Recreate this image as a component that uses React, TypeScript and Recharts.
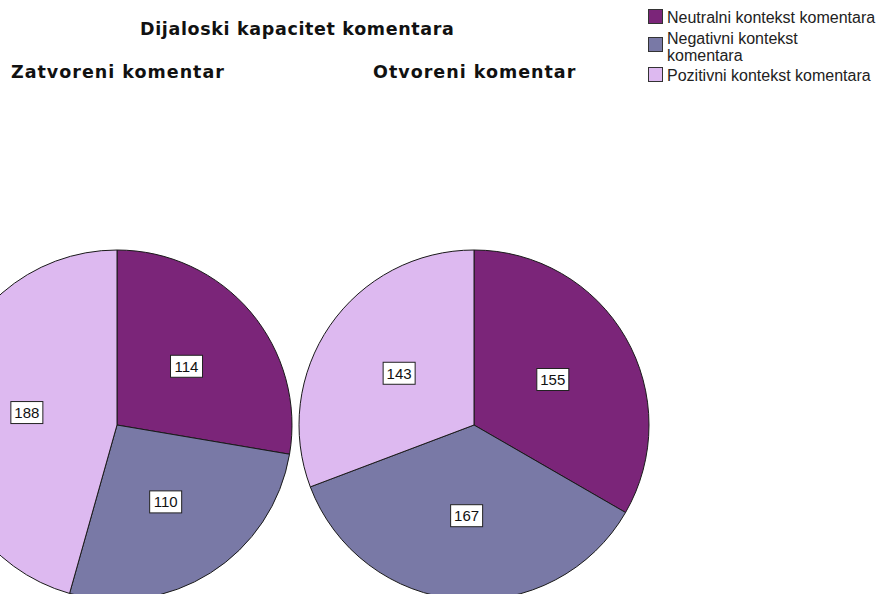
import { PieChart, Pie, Cell, Legend } from "recharts";

const categories = ["Neutralni kontekst komentara", "Negativni kontekst komentara", "Pozitivni kontekst komentara"];
const legendLines = [["Neutralni kontekst komentara"], ["Negativni kontekst", "komentara"], ["Pozitivni kontekst komentara"]];
const colors = ["#7B2579", "#7979A6", "#DDB9F0"];
const closedValues = [114, 110, 188];
const openValues = [155, 167, 143];

const chartTitle = "Dijaloski kapacitet komentara";
const pieTitles = ["Zatvoreni komentar", "Otvoreni komentar"];

const closedData = categories.map((name, i) => ({ name, value: closedValues[i] }));
const openData = categories.map((name, i) => ({ name, value: openValues[i] }));

const RAD = Math.PI / 180;

function ValueLabel(props: any) {
  const { cx, cy, midAngle, outerRadius, value } = props;
  const r = outerRadius * 0.52;
  const x = cx + r * Math.cos(-midAngle * RAD);
  const y = cy + r * Math.sin(-midAngle * RAD);
  return (
    <g>
      <rect x={x - 16} y={y - 11} width={32} height={22} fill="#fff" stroke="#222" strokeWidth={1} />
      <text
        x={x}
        y={y + 5.5}
        textAnchor="middle"
        fontSize={15}
        fontFamily="'Liberation Sans', Arial, sans-serif"
        fill="#111"
      >
        {value}
      </text>
    </g>
  );
}

function LegendBox() {
  const tops = [10, 31, 68];
  const swatchTops = [9, 37, 67];
  return (
    <div style={{ position: "relative", width: 232, height: 90 }}>
      {legendLines.map((lines, i) => (
        <div key={categories[i]}>
          <div
            style={{
              position: "absolute",
              left: 0,
              top: swatchTops[i],
              width: 13,
              height: 13,
              background: colors[i],
              border: "1px solid #333",
            }}
          />
          <div
            style={{
              position: "absolute",
              left: 19,
              top: tops[i],
              fontSize: 16,
              lineHeight: "16.5px",
              fontFamily: "'Liberation Sans', Arial, sans-serif",
              color: "#222",
              whiteSpace: "nowrap",
            }}
          >
            {lines.map((l) => (
              <div key={l}>{l}</div>
            ))}
          </div>
        </div>
      ))}
    </div>
  );
}

const titleFont = {
  position: "absolute" as const,
  fontFamily: "'DejaVu Sans', sans-serif",
  fontWeight: "bold" as const,
  fontSize: 17.5,
  lineHeight: "20px",
  letterSpacing: 1,
  color: "#111",
  whiteSpace: "nowrap" as const,
};

export default function App() {
  return (
    <div
      style={{
        position: "absolute",
        left: 0,
        top: 0,
        width: 880,
        height: 594,
        overflow: "hidden",
        background: "#fff",
      }}
    >
      <div style={{ ...titleFont, letterSpacing: 0.65, left: 140, top: 19 }}>{chartTitle}</div>
      <div style={{ ...titleFont, left: 11, top: 62 }}>{pieTitles[0]}</div>
      <div style={{ ...titleFont, left: 373, top: 62 }}>{pieTitles[1]}</div>
      <PieChart width={880} height={594} margin={{ top: 0, right: 0, bottom: 0, left: 0 }}>
        <Legend
          content={() => <LegendBox />}
          wrapperStyle={{ position: "absolute", left: 648, top: 0, width: 232 }}
        />
        <Pie
          data={closedData}
          dataKey="value"
          nameKey="name"
          cx={117}
          cy={425}
          outerRadius={175}
          startAngle={90}
          endAngle={-270}
          stroke="#1a1a1a"
          strokeWidth={1}
          label={ValueLabel}
          labelLine={false}
          isAnimationActive={false}
        >
          {closedData.map((d, i) => (
            <Cell key={d.name} fill={colors[i]} />
          ))}
        </Pie>
        <Pie
          data={openData}
          dataKey="value"
          nameKey="name"
          cx={474}
          cy={425}
          outerRadius={175}
          startAngle={90}
          endAngle={-270}
          stroke="#1a1a1a"
          strokeWidth={1}
          label={ValueLabel}
          labelLine={false}
          isAnimationActive={false}
        >
          {openData.map((d, i) => (
            <Cell key={d.name} fill={colors[i]} />
          ))}
        </Pie>
      </PieChart>
    </div>
  );
}
